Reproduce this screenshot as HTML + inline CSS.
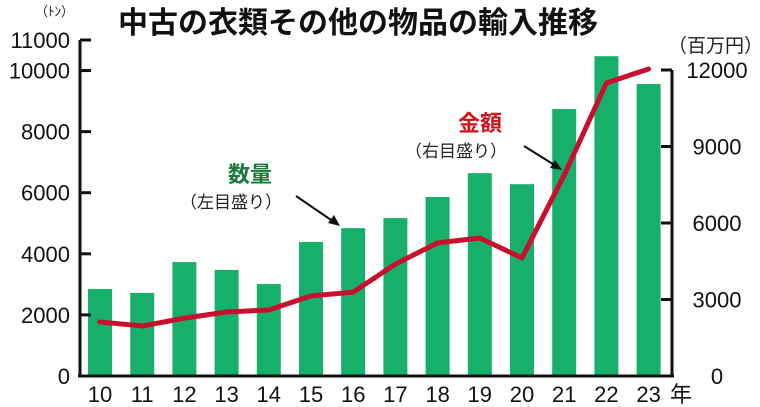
<!DOCTYPE html>
<html><head><meta charset="utf-8"><style>
body{margin:0;background:#fff}
svg{display:block;font-family:"Liberation Sans","Noto Sans CJK JP",sans-serif}
</style></head><body>
<svg id="c" width="760" height="407" viewBox="0 0 760 407">
<text x="118" y="33" font-size="30" font-weight="bold" fill="#111">中古の衣類その他の物品の輸入推移</text>
<text x="35" y="16" font-size="13" fill="#222">（ﾄﾝ）</text>
<text x="668" y="52" font-size="19" fill="#222">（百万円）</text>
<g id="bars"></g><g id="axes"></g><g id="line"></g>
<text x="228" y="182" font-size="22" font-weight="bold" fill="#1a7a3a">数量</text>
<text x="180" y="208" font-size="17" fill="#222">（左目盛り）</text>
<line x1="296" y1="196" x2="334" y2="222" stroke="#111" stroke-width="2"/>
<polygon points="340,226 328,223 334,215" fill="#111"/>
<text x="458" y="131" font-size="22" font-weight="bold" fill="#d0121b">金額</text>
<text x="405" y="157" font-size="17" fill="#222">（右目盛り）</text>
<line x1="524" y1="146" x2="556" y2="166" stroke="#111" stroke-width="2"/>
<polygon points="562,170 550,168 555,160" fill="#111"/>
</svg>
<script>
const years=["10","11","12","13","14","15","16","17","18","19","20","21","22","23"];
const quantity=[2850,2720,3730,3470,3010,4390,4840,5170,5860,6640,6280,8740,10470,9560];
const amount=[2120,1960,2270,2510,2590,3140,3290,4390,5220,5410,4630,7880,11490,12040];
const leftTicks=[0,2000,4000,6000,8000,10000,11000];
const rightTicks=[0,3000,6000,9000,12000];
const NS="http://www.w3.org/2000/svg";
const yL=v=>376-v*(336/11000);
const yR=v=>376-v*(306/12000);
const xC=i=>100+i*42.2;
function mk(t,a,p){const e=document.createElementNS(NS,t);for(const k in a)e.setAttribute(k,a[k]);document.getElementById(p).appendChild(e);return e;}
quantity.forEach((v,i)=>{const r=mk('rect',{x:xC(i)-12,y:yL(v),width:24,height:376-yL(v),fill:'#17b06a'},'bars');

});
let ax=mk('line',{x1:80,y1:yL(11000),x2:80,y2:376,stroke:'#111','stroke-width':3},'axes');


let ax2=mk('line',{x1:672,y1:yR(12000),x2:672,y2:376,stroke:'#111','stroke-width':3},'axes');


let bl=mk('line',{x1:78,y1:376,x2:674,y2:376,stroke:'#111','stroke-width':3},'axes');


leftTicks.forEach(v=>{mk('line',{x1:80,y1:yL(v),x2:91,y2:yL(v),stroke:'#111','stroke-width':3},'axes');
const t=mk('text',{x:70,y:yL(v)+8,'font-size':22,'text-anchor':'end',fill:'#111'},'axes');t.textContent=v;

});
rightTicks.forEach(v=>{mk('line',{x1:661,y1:yR(v),x2:672,y2:yR(v),stroke:'#111','stroke-width':3},'axes');
const t=mk('text',{x:717,y:yR(v)+8,'font-size':22,'text-anchor':'middle',fill:'#111'},'axes');t.textContent=v;

});
years.forEach((y,i)=>{const t=mk('text',{x:xC(i),y:402,'font-size':22,'text-anchor':'middle',fill:'#111'},'axes');t.textContent=y;

});
const yt=mk('text',{x:670,y:402,'font-size':22,fill:'#111'},'axes');yt.textContent='年';


const pl=mk('polyline',{points:amount.map((v,i)=>xC(i)+','+yR(v)).join(' '),fill:'none',stroke:'#c8102e','stroke-width':5,'stroke-linejoin':'round','stroke-linecap':'round'},'line');


</script>
</body></html>
